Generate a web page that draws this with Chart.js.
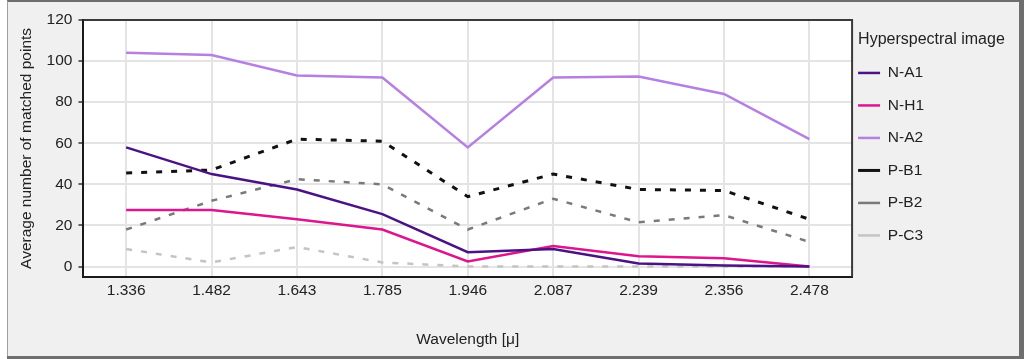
<!DOCTYPE html>
<html>
<head>
<meta charset="utf-8">
<script src="https://cdn.jsdelivr.net/npm/chart.js@4.4.1/dist/chart.umd.min.js"></script>
<style>
  html, body { margin: 0; padding: 0; background: #fff; }
  canvas { display: block; }
</style>
</head>
<body>
<canvas id="myChart" width="1024" height="359"></canvas>
<script>
const wavelengths = ['1.336', '1.482', '1.643', '1.785', '1.946', '2.087', '2.239', '2.356', '2.478'];
const yTicks = [0, 20, 40, 60, 80, 100, 120];

const nA1 = [58, 45, 37.5, 25.5, 7, 8.5, 1.5, 0.5, 0];
const nH1 = [27.5, 27.5, 23, 18, 2.5, 10, 5, 4, 0];
const nA2 = [104, 103, 93, 92, 58, 92, 92.5, 84, 62];
const pB1 = [45.5, 47, 62, 61, 34, 45, 37.5, 37, 23];
const pB2 = [18, 32, 42.5, 40, 18, 33, 21.5, 25, 12];
const pC3 = [8.5, 2, 9.5, 2, 0, 0, 0, 0, 0];

Chart.defaults.font.family = "'Liberation Sans', Arial, sans-serif";
Chart.defaults.font.size = 15.5;
Chart.defaults.color = '#222';

// grey window frame + white plot area
const frame = {
  id: 'frame',
  beforeDraw(chart) {
    const { ctx, chartArea: a, width, height } = chart;
    ctx.save();
    ctx.fillStyle = '#6e6e6e';
    ctx.fillRect(0, 0, width, height);
    ctx.fillStyle = '#ffffff';
    ctx.fillRect(0, 0, 7, height);
    ctx.fillStyle = '#a0a0a0';
    ctx.fillRect(7, 1, 1, height - 4);
    ctx.fillStyle = '#f0f0f0';
    ctx.fillRect(8, 2, width - 13, height - 5);
    ctx.fillStyle = '#ffffff';
    ctx.fillRect(a.left, a.top, a.right - a.left, a.bottom - a.top);
    ctx.restore();
  },
  afterDraw(chart) {
    const { ctx, chartArea: a } = chart;
    ctx.save();
    ctx.strokeStyle = '#3a3a3a';
    ctx.lineWidth = 2;
    ctx.beginPath();
    ctx.moveTo(a.left, a.top);
    ctx.lineTo(a.right, a.top);
    ctx.lineTo(a.right, a.bottom);
    ctx.stroke();
    ctx.restore();
  }
};

// legend sits just right of the plot, title lined up with the items
const legendPlace = {
  id: 'legendPlace',
  afterLayout(chart) {
    const lg = chart.legend;
    const pad = lg.options.labels.padding;
    lg.left = chart.chartArea.right + 6 - pad;
    lg.right = chart.width - 4;
    lg.width = lg.right - lg.left;
    if (!lg._titleShifted) {
      const name = typeof lg.drawTitle === 'function' ? 'drawTitle' : '_drawTitle';
      const draw = lg[name];
      lg[name] = function () {
        const l = this.left;
        this.left = l + this.options.labels.padding;
        draw.call(this);
        this.left = l;
      };
      lg._titleShifted = true;
    }
  }
};

function line(label, data, color, width, dash) {
  return {
    label: label,
    data: data,
    borderColor: color,
    backgroundColor: color,
    borderWidth: width,
    borderDash: dash || [],
    pointRadius: 0,
    pointHoverRadius: 0,
    tension: 0,
    fill: false
  };
}

new Chart(document.getElementById('myChart'), {
  type: 'line',
  data: {
    labels: wavelengths,
    datasets: [
      line('N-A1', nA1, '#4a1284', 2.5),
      line('N-H1', nH1, '#dc168c', 2.5),
      line('N-A2', nA2, '#b580e2', 2.5),
      line('P-B1', pB1, '#111111', 3, [6, 9]),
      line('P-B2', pB2, '#7a7a7a', 2.5, [6, 9]),
      line('P-C3', pC3, '#c4c4c4', 2.5, [6, 9])
    ]
  },
  options: {
    responsive: false,
    animation: false,
    layout: { padding: { left: 8, top: 20, right: 79, bottom: 8 } },
    plugins: {
      tooltip: { enabled: false },
      legend: {
        position: 'right',
        align: 'start',
        title: {
          display: true,
          position: 'start',
          text: 'Hyperspectral image',
          color: '#222',
          font: { size: 16 },
          padding: { top: 12, bottom: -3 }
        },
        labels: {
          usePointStyle: true,
          pointStyle: 'line',
          pointStyleWidth: 22,
          padding: 17,
          color: '#222',
          font: { size: 15.5 }
        }
      }
    },
    scales: {
      x: {
        offset: true,
        grid: { color: '#e4e4e4', lineWidth: 2, drawTicks: false },
        border: { color: '#1a1a1a', width: 2 },
        ticks: { padding: 5, maxRotation: 0 },
        title: { display: true, text: 'Wavelength [μ]', padding: { top: 25, bottom: 2 } }
      },
      y: {
        min: -5,
        max: 120,
        afterBuildTicks: s => { s.ticks = yTicks.map(v => ({ value: v })); },
        grid: { color: '#e4e4e4', lineWidth: 2, tickColor: '#333', tickLength: 5, tickWidth: 1.5 },
        border: { color: '#1a1a1a', width: 2 },
        ticks: { padding: 6 },
        title: { display: true, text: 'Average number of matched points', padding: { top: 9, bottom: 5 } }
      }
    }
  },
  plugins: [frame, legendPlace]
});
</script>
</body>
</html>
